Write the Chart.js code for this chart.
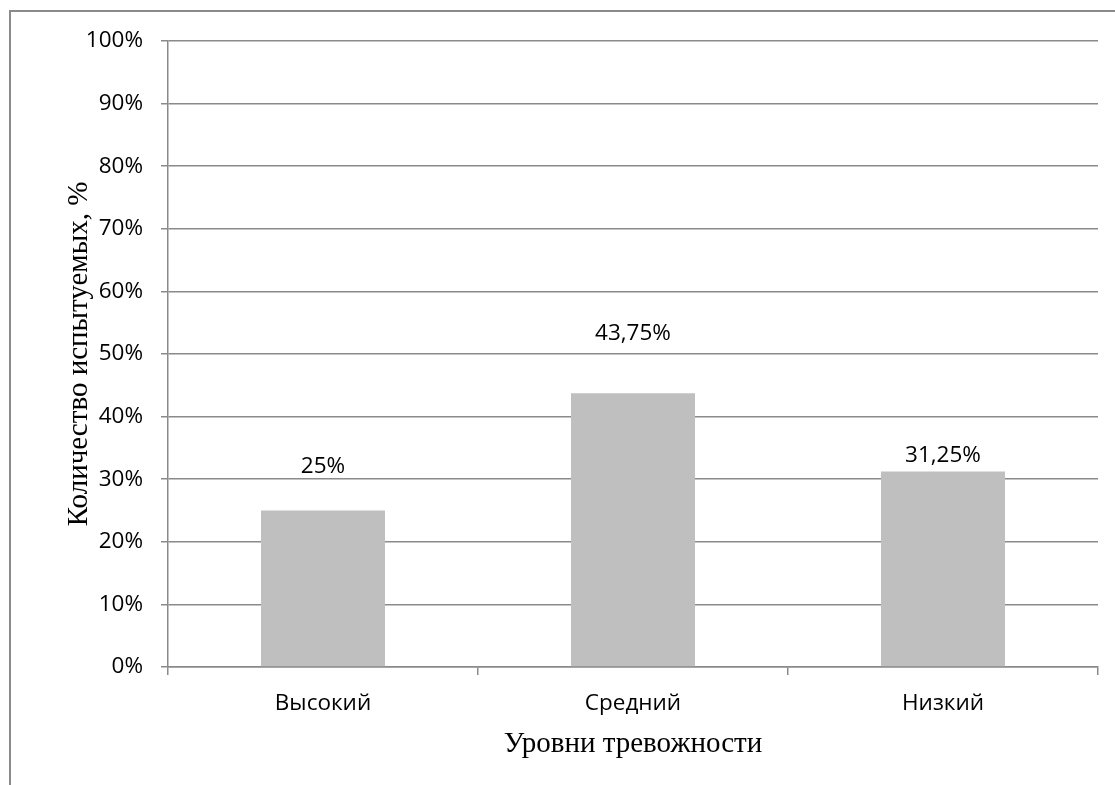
<!DOCTYPE html>
<html>
<head>
<meta charset="utf-8">
<script src="https://cdn.jsdelivr.net/npm/chart.js@4"></script>
<style>
  body { margin: 0; background: #fff; }
  #wrap { position: relative; width: 1115px; height: 785px; overflow: hidden; }
  #frame { position: absolute; left: 9px; top: 10px; width: 1200px; height: 900px;
           border-left: 2px solid #8a8a8a; border-top: 2px solid #8a8a8a; }
  #grafico { position: absolute; left: 0; top: 0; }
</style>
</head>
<body>
<div id="wrap">
  <div id="frame"></div>
  <canvas id="grafico" width="1115" height="785"></canvas>
</div>
<script>
// ------------- dati -------------
const livelli = ['Высокий', 'Средний', 'Низкий'];
const percentuali = [25, 43.75, 31.25];
const yTicks = [0, 10, 20, 30, 40, 50, 60, 70, 80, 90, 100];
// ------------- dati -------------

const fontTick = { family: 'Open Sans', size: 22.5 };
const fontTitle = { family: 'Liberation Serif', size: 29 };
const grigio = '#8a8a8a';

// etichette sopra le barre (spostamento in pixel come nell'originale)
const etichette = {
  id: 'etichette',
  afterDatasetsDraw(chart, args, opts) {
    const ctx = chart.ctx;
    const meta = chart.getDatasetMeta(0);
    ctx.save();
    ctx.font = fontTick.size + 'px "' + fontTick.family + '"';
    ctx.fillStyle = '#000';
    ctx.textAlign = 'center';
    ctx.textBaseline = 'middle';
    meta.data.forEach((bar, i) => {
      const testo = String(percentuali[i]).replace('.', ',') + '%';
      ctx.fillText(testo, bar.x, bar.y - opts.spostamento[i]);
    });
    ctx.restore();
  }
};

const ctx = document.getElementById('grafico').getContext('2d');
const chart = new Chart(ctx, {
  type: 'bar',
  data: {
    labels: livelli,
    datasets: [{
      data: percentuali,
      backgroundColor: '#bfbfbf',
      borderWidth: 0,
      barPercentage: 0.4,
      categoryPercentage: 1
    }]
  },
  options: {
    responsive: false,
    animation: false,
    layout: { padding: { top: 41, right: 17, left: 0, bottom: 0 } },
    plugins: {
      legend: { display: false },
      tooltip: { enabled: false },
      etichette: { spostamento: [44, 60, 16] }
    },
    scales: {
      x: {
        offset: true,
        grid: { offset: true, drawOnChartArea: false, color: grigio, lineWidth: 1.5, tickLength: 8 },
        border: { color: grigio, width: 1.5 },
        ticks: { color: '#000', font: fontTick, padding: 15 },
        title: { display: true, text: 'Уровни тревожности', color: '#000', font: fontTitle,
                 padding: { top: 0, bottom: 23 } },
        afterFit(scale) { scale.height = 118; }
      },
      y: {
        min: 0,
        max: 100,
        afterBuildTicks(scale) { scale.ticks = yTicks.map(v => ({ value: v })); },
        grid: { color: grigio, lineWidth: 1.5, tickLength: 7 },
        border: { color: grigio, width: 1.5 },
        ticks: { color: '#000', font: fontTick, padding: 18, callback: v => v + '%' },
        title: { display: true, text: 'Количество испытуемых, %', color: '#000', font: fontTitle,
                 padding: { top: 62, bottom: 0 } },
        afterFit(scale) { scale.width = 168; }
      }
    }
  },
  plugins: [etichette]
});
</script>
</body>
</html>
